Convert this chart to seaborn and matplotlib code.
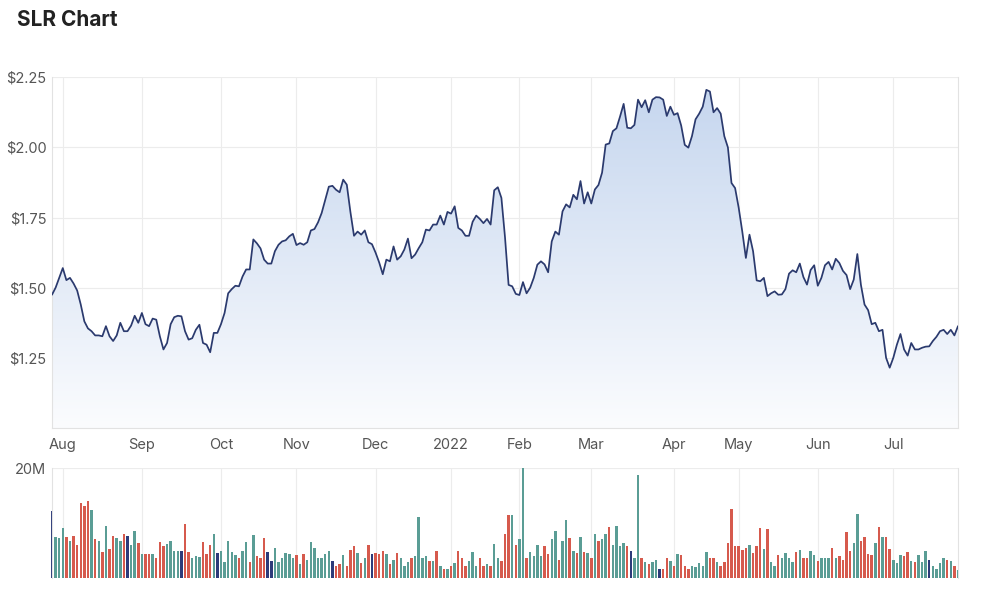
import numpy as np
import pandas as pd
import matplotlib
matplotlib.use("Agg")
import matplotlib.pyplot as plt
import seaborn as sns
from matplotlib.colors import LinearSegmentedColormap
from matplotlib.ticker import FuncFormatter

# ---------------- data ----------------
TITLE = "SLR Chart"
START_DATE = "2021-07-28"
ASX_HOLIDAYS = ["2021-12-27", "2021-12-28", "2022-01-03", "2022-01-26",
                "2022-04-15", "2022-04-18", "2022-04-25", "2022-06-13"]
MONTH_LABELS = ["Aug", "Sep", "Oct", "Nov", "Dec", "2022",
                "Feb", "Mar", "Apr", "May", "Jun", "Jul"]
PRICE_TICKS = [1.25, 1.50, 1.75, 2.00, 2.25]
VOLUME_TICKS = [20e6]
VOLUME_TICK_LABELS = ["20M"]

PRICE = [
    1.475, 1.50, 1.535, 1.57, 1.527, 1.535, 1.515, 1.49, 1.44, 1.38,
    1.355, 1.345, 1.33, 1.33, 1.327, 1.363, 1.327, 1.31, 1.33, 1.375,
    1.345, 1.345, 1.365, 1.40, 1.375, 1.41, 1.37, 1.363, 1.39, 1.386,
    1.327, 1.28, 1.303, 1.37, 1.395, 1.40, 1.398, 1.345, 1.315, 1.32,
    1.35, 1.368, 1.303, 1.297, 1.27, 1.339, 1.339, 1.37, 1.41, 1.48,
    1.495, 1.507, 1.505,
    1.54, 1.565, 1.565, 1.672, 1.658, 1.64, 1.60, 1.586, 1.586, 1.63,
    1.653, 1.665, 1.669, 1.683, 1.692, 1.652, 1.659, 1.653, 1.662, 1.704,
    1.709, 1.733, 1.766, 1.813, 1.86, 1.863, 1.849, 1.84, 1.885, 1.867,
    1.77, 1.685, 1.70, 1.689, 1.704, 1.662, 1.655, 1.625, 1.59, 1.548,
    1.60, 1.594, 1.647, 1.60, 1.612, 1.636, 1.675, 1.605, 1.618, 1.641,
    1.662, 1.707, 1.704, 1.725, 1.725, 1.757, 1.725, 1.77, 1.764, 1.79,
    1.713, 1.704, 1.685, 1.685, 1.735, 1.757,
    1.745, 1.73, 1.745, 1.725, 1.847, 1.858, 1.82, 1.68, 1.51, 1.505,
    1.478, 1.474, 1.52, 1.48, 1.50, 1.535, 1.582, 1.594, 1.583, 1.555,
    1.665, 1.70, 1.689, 1.772, 1.797, 1.786, 1.831, 1.815, 1.88, 1.80,
    1.84, 1.80, 1.85, 1.866, 1.91, 2.01, 2.014, 2.058, 2.068, 2.11,
    2.155, 2.07, 2.068, 2.08, 2.17, 2.143, 2.168, 2.125, 2.17, 2.179,
    2.178, 2.17, 2.112, 2.145, 2.116, 2.122, 2.078, 2.009, 1.999, 2.04,
    2.10, 2.12, 2.145, 2.205, 2.199, 2.125, 2.14,
    2.12, 2.04, 2.00, 1.873, 1.855, 1.785, 1.70, 1.606, 1.689, 1.63,
    1.526, 1.523, 1.535, 1.47, 1.48, 1.487, 1.475, 1.476, 1.495, 1.55,
    1.562, 1.555, 1.586, 1.538, 1.511, 1.563, 1.58, 1.507, 1.535, 1.58,
    1.592, 1.565, 1.603, 1.588, 1.56, 1.545, 1.495, 1.529, 1.62, 1.51,
    1.44, 1.42, 1.37, 1.375, 1.345, 1.35, 1.25, 1.215, 1.25, 1.297,
    1.335, 1.28, 1.258, 1.303, 1.28, 1.28, 1.286, 1.29, 1.291, 1.31,
    1.325, 1.345, 1.35, 1.335, 1.35, 1.33, 1.363,
]

VOLUME_M = [
    12.1, 7.4, 7.2, 9.1, 7.4, 6.7, 7.6, 5.9, 13.7, 13.1,
    14.0, 12.3, 7.1, 6.7, 4.7, 9.5, 5.3, 7.6, 7.2, 6.6,
    8.0, 7.6, 5.9, 8.6, 6.3, 4.3, 4.3, 4.3, 4.3, 3.6,
    6.5, 5.7, 6.1, 6.7, 4.9, 4.9, 4.9, 9.8, 4.7, 3.5,
    3.9, 3.7, 6.5, 4.3, 5.9, 7.9, 4.5, 4.9, 2.9, 6.7,
    4.7, 4.1, 3.6, 4.9, 6.5, 2.9, 7.7, 3.9, 3.6, 7.3,
    4.7, 3.0, 5.5, 2.9,
    3.6, 4.5, 4.3, 3.5, 4.1, 2.4, 4.3, 3.3, 6.5, 5.5,
    3.5, 3.5, 4.3, 4.9, 3.0, 2.2, 2.4, 4.1, 2.1, 5.1,
    5.7, 4.5, 2.7, 3.6, 5.9, 4.3, 4.5, 4.3, 4.9, 4.3,
    2.4, 3.3, 4.5, 3.6, 2.2, 2.9, 3.5, 3.9, 11.1, 3.6,
    3.9, 3.0, 3.0, 4.9, 2.1, 1.5, 1.5, 2.2, 2.7, 4.9,
    3.5, 2.2, 3.0, 4.7, 2.2, 3.5, 2.2, 2.4, 2.1, 6.1,
    3.5, 3.0, 7.9, 11.4,
    11.4, 5.9, 7.1, 20.0, 3.5, 4.7, 3.9, 5.9, 3.9, 5.7,
    4.3, 7.1, 8.6, 3.3, 6.7, 10.5, 7.3, 4.9, 4.5, 7.4,
    4.7, 4.5, 3.6, 8.0, 6.7, 7.1, 8.0, 9.2, 5.9, 9.5,
    5.7, 6.4, 5.7, 4.9, 3.6, 18.8, 3.6, 2.9, 2.4, 2.9,
    3.3, 1.6, 1.6, 3.5, 3.0, 2.2, 4.3, 4.1, 2.2, 1.6,
    2.2, 1.9, 2.7, 2.2, 4.7, 3.6, 3.6, 2.9, 2.2, 2.9,
    6.3, 12.5, 5.7,
    5.7, 5.1, 5.5, 5.9, 4.5, 5.7, 9.1, 5.3, 8.9, 2.9,
    2.2, 4.1, 3.6, 4.5, 3.5, 2.9, 4.7, 5.1, 3.5, 3.5,
    4.9, 4.1, 3.0, 3.6, 3.6, 3.6, 5.5, 3.6, 3.9, 3.3,
    8.3, 4.9, 6.3, 11.6, 6.7, 7.4, 4.3, 4.1, 6.3, 9.2,
    7.4, 7.4, 5.3, 3.3, 2.7, 4.1, 3.9, 4.7, 3.0, 2.9,
    4.1, 2.9, 4.9, 3.3, 2.2, 1.6, 2.7, 3.6, 3.3, 3.0,
    2.2, 1.3,
]

# u = up day, d = down day, n = unchanged
DIRECTION = list(
    "nuuududddd" "dudududduu" "dnuududdud" "dduuuunddu" "uudddunuuu"
    "uuduududdd" "nnuu"
    "uuuududuuu" "uuuunddudd" "dududndddu" "duduuuduuu" "ududududud"
    "dduuuddudu" "uddd"
    "uduuduuuud" "duuduududu" "dududuuduu" "uudnuududu" "unddududdd"
    "uuuuuddudd" "ddd"
    "dddudddudu" "uduuuududd" "uuduuududd" "dduuddddud" "udduuuddud"
    "uuunuuuudu" "du"
)

# ---------------- styling ----------------
sns.set_theme(style="white")
plt.rcParams["font.family"] = ["Inter", "DejaVu Sans"]

LINE_COLOR = "#2b3a6e"
GRID_COLOR = "#ececec"
SPINE_COLOR = "#e2e2e2"
TICK_COLOR = "#555555"
VOL_PALETTE = {"u": "#5a9d95", "d": "#d65a4d", "n": "#2d3b7a"}
BAR_WIDTH = 0.68

n = len(PRICE)
bday = pd.offsets.CustomBusinessDay(holidays=ASX_HOLIDAYS)
dates = pd.date_range(START_DATE, periods=n, freq=bday)
df = pd.DataFrame({
    "idx": np.arange(n),
    "date": dates,
    "price": PRICE,
    "volume": np.array(VOLUME_M) * 1e6,
    "dir": DIRECTION,
})
month = df["date"].dt.month
month_starts = df.index[month != month.shift()].tolist()[1:]

fig = plt.figure(figsize=(10, 6.08), dpi=100)
ax = fig.add_axes([0.052, 0.296, 0.906, 0.577])
axv = fig.add_axes([0.052, 0.05, 0.906, 0.18])

# gradient area under the price line
y0 = 1.0
poly = ax.fill_between(df["idx"], df["price"], y0, color="none", lw=0)
grad = np.linspace(1, 0, 256).reshape(-1, 1)
cmap = LinearSegmentedColormap.from_list("area", ["#fbfcfe", "#c4d5ee"])
im = ax.imshow(grad, extent=[0, n - 1, y0, 2.25], origin="upper", aspect="auto",
               cmap=cmap, vmin=0, vmax=1, zorder=1, interpolation="bicubic")
im.set_clip_path(poly.get_paths()[0], transform=ax.transData)

sns.lineplot(data=df, x="idx", y="price", ax=ax, color=LINE_COLOR,
             linewidth=1.25, zorder=3)

ax.set_xlim(0, n - 1)
ax.set_ylim(y0, 2.25)
ax.set_yticks(PRICE_TICKS)
ax.yaxis.set_major_formatter(FuncFormatter(lambda v, p: f"${v:.2f}"))
ax.set_xticks(month_starts)
ax.set_xticklabels(MONTH_LABELS)
ax.set_xlabel("")
ax.set_ylabel("")
ax.grid(True, color=GRID_COLOR, lw=0.8, zorder=0)
ax.set_axisbelow(True)
ax.tick_params(axis="both", length=0, labelsize=10.5, colors=TICK_COLOR)
ax.tick_params(axis="x", pad=7)
ax.tick_params(axis="y", pad=4)
for s in ax.spines.values():
    s.set_color(SPINE_COLOR)
    s.set_linewidth(0.8)
ax.spines["top"].set_visible(False)

# volume bars
sns.barplot(data=df, x="idx", y="volume", hue="dir", palette=VOL_PALETTE,
            native_scale=True, dodge=False, width=BAR_WIDTH, saturation=1,
            errorbar=None, legend=False, ax=axv, zorder=2)
# make every bar the same width around its day position
for p in axv.patches:
    cx = p.get_x() + p.get_width() / 2
    p.set_width(BAR_WIDTH)
    p.set_x(cx - BAR_WIDTH / 2)
    p.set_linewidth(0)
    p.set_clip_on(False)

axv.set_xlim(0, n - 1)
axv.set_ylim(0, 20e6)
axv.set_yticks(VOLUME_TICKS)
axv.set_yticklabels(VOLUME_TICK_LABELS)
axv.set_xticks(month_starts)
axv.set_xticklabels([])
axv.set_xlabel("")
axv.set_ylabel("")
axv.grid(True, color=GRID_COLOR, lw=0.8, zorder=0)
axv.set_axisbelow(True)
axv.tick_params(axis="both", length=0, labelsize=10.5, colors=TICK_COLOR)
axv.tick_params(axis="y", pad=4)
for side, s in axv.spines.items():
    s.set_color(SPINE_COLOR)
    s.set_linewidth(0.8)
axv.spines["top"].set_visible(False)
axv.spines["bottom"].set_visible(False)

fig.text(0.017, 1 - 20 / 608, TITLE, fontsize=15, fontweight="bold",
         color="#222222", ha="left", va="center")

fig.savefig("out.png", dpi=100)
